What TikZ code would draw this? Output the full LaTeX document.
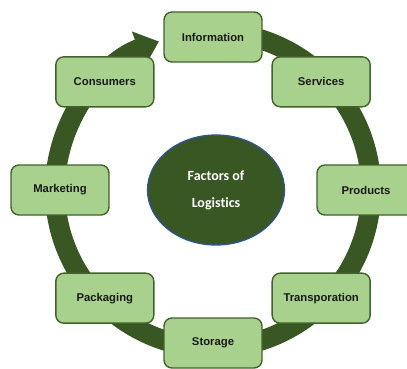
\documentclass[tikz,border=0pt]{standalone}
\usepackage{fontspec}
\setmainfont{Liberation Sans}
\newfontfamily\hubfont[Ligatures=NoCommon]{Carlito}
\usetikzlibrary{arrows.meta,shapes.geometric}

\definecolor{ringgreen}{HTML}{385723}
\definecolor{boxgreen}{HTML}{A9D18E}
\definecolor{boxline}{HTML}{41632A}
\definecolor{hubline}{HTML}{2F5597}

\tikzset{
  factor/.style={draw=boxline, line width=1.4pt, fill=boxgreen,
    rounded corners=8pt, minimum width=98pt, minimum height=50pt,
    font=\fontsize{11.3}{13}\selectfont\bfseries, text=black!90},
  hub/.style={ellipse, draw=hubline, line width=1.3pt, fill=ringgreen,
    minimum width=137pt, minimum height=110pt, align=center,
    font=\hubfont\fontsize{14}{27}\selectfont\bfseries, text=white},
  cycle/.style={draw=ringgreen, line width=20pt,
    -{Triangle[width=36pt,length=22pt]}}
}

\begin{document}
\begin{tikzpicture}[x=1pt, y=1pt]
    \clip (0,0) rectangle (407,368);
    \coordinate (mid) at (213,178);

    % ring behind the boxes
    \draw[cycle] (mid) ++(80:158) arc[start angle=80, end angle=-250, radius=158];

    % centre
    \node[hub] (logistics) at (216,178) {Factors of\\Logistics};

    % boxes round the ring
    \begin{scope}[shift={(mid)}]
        \node[factor] (info)      at (90:153)  {Information};
        \node[factor] (services)  at (45:153)  {Services};
        \node[factor] (products)  at (0:153)   {Products};
        \node[factor] (transport) at (-45:153) {Transporation};
        \node[factor] (storage)   at (-90:153) {Storage};
        \node[factor] (packaging) at (-135:153) {Packaging};
        \node[factor] (marketing) at (180:153) {Marketing};
        \node[factor] (consumers) at (135:153) {Consumers};
    \end{scope}
\end{tikzpicture}
\end{document}
